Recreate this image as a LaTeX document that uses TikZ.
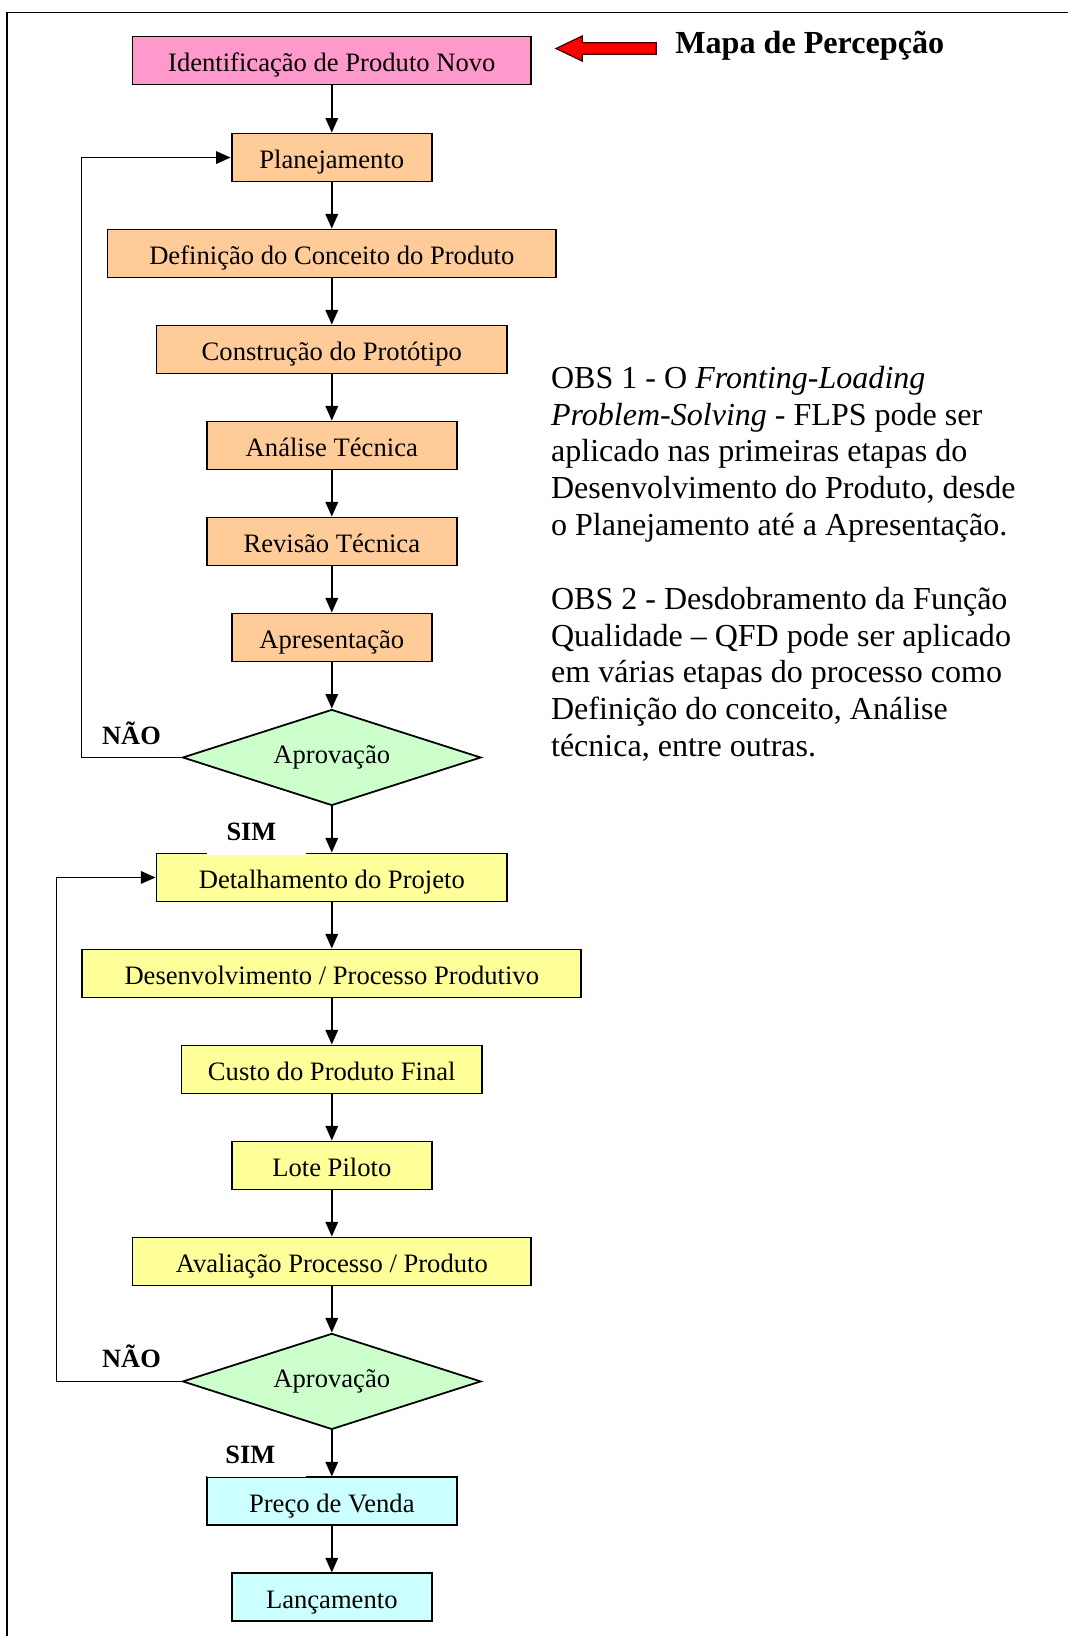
\documentclass[tikz,border=0pt]{standalone}
\usepackage{fontspec}
\setmainfont{Liberation Serif}
\usetikzlibrary{shapes.geometric,arrows.meta}
\definecolor{cpink}{HTML}{FF99CC}
\definecolor{corange}{HTML}{FFCC99}
\definecolor{cyellow}{HTML}{FFFF99}
\definecolor{cgreen}{HTML}{CCFFCC}
\definecolor{ccyan}{HTML}{CCFFFF}
\begin{document}
\begin{tikzpicture}[x=1pt,y=-1pt,
  stepbox/.style={draw, line width=1.8pt, minimum height=46pt, inner sep=0pt,
    font=\fontsize{25.5}{30}\selectfont, text height=26.8pt, text depth=6.3pt},
  dia/.style={diamond, draw, fill=cgreen, line width=1.7pt, minimum width=286pt,
    minimum height=92pt, aspect=3.1, inner sep=0pt,
    font=\fontsize{25.5}{30}\selectfont, text height=17.6pt, text depth=6.3pt},
  arr/.style={line width=1.5pt, -{Triangle[length=14pt,width=12pt]}},
  lbl/.style={anchor=base, inner sep=0pt, font=\bfseries\fontsize{25.3}{30}\selectfont}
]
\useasboundingbox (0,0) rectangle (1023,1568);
% frame
\draw[line width=1.8pt] (7,1570) -- (7,12) -- (1025,12);

% boxes
\node[stepbox, fill=cpink, minimum width=382pt] (n1) at (318,58) {Identificação de Produto Novo};
\node[stepbox, fill=corange, minimum width=192pt] (n2) at (318,151) {Planejamento};
\node[stepbox, fill=corange, minimum width=430pt] (n3) at (318,243) {Definição do Conceito do Produto};
\node[stepbox, fill=corange, minimum width=336pt] (n4) at (318,335) {Construção do Protótipo};
\node[stepbox, fill=corange, minimum width=240pt] (n5) at (318,427) {Análise Técnica};
\node[stepbox, fill=corange, minimum width=240pt] (n6) at (318,519) {Revisão Técnica};
\node[stepbox, fill=corange, minimum width=192pt] (n7) at (318,611) {Apresentação};
\node[dia] (d1) at (318,726) {Aprovação};
\node[stepbox, fill=cyellow, minimum width=336pt] (n8) at (318,841) {Detalhamento do Projeto};
\node[stepbox, fill=cyellow, minimum width=478pt] (n9) at (318,933) {Desenvolvimento / Processo Produtivo};
\node[stepbox, fill=cyellow, minimum width=288pt] (n10) at (318,1025) {Custo do Produto Final};
\node[stepbox, fill=cyellow, minimum width=192pt] (n11) at (318,1117) {Lote Piloto};
\node[stepbox, fill=cyellow, minimum width=382pt] (n12) at (318,1209) {Avaliação Processo / Produto};
\node[dia] (d2) at (318,1324) {Aprovação};
\node[stepbox, fill=ccyan, minimum width=240pt] (n13) at (318,1439) {Preço de Venda};
\node[stepbox, fill=ccyan, minimum width=192pt] (n14) at (318,1531) {Lançamento};

% connectors
\draw[arr] (n1) -- (n2);
\draw[arr] (n2) -- (n3);
\draw[arr] (n3) -- (n4);
\draw[arr] (n4) -- (n5);
\draw[arr] (n5) -- (n6);
\draw[arr] (n6) -- (n7);
\draw[arr] (n7) -- (d1);
\draw[arr] (d1) -- (n8);
\draw[arr] (n8) -- (n9);
\draw[arr] (n9) -- (n10);
\draw[arr] (n10) -- (n11);
\draw[arr] (n11) -- (n12);
\draw[arr] (n12) -- (d2);
\draw[arr] (d2) -- (n13);
\draw[arr] (n13) -- (n14);
\draw[arr] (d1.west) -- ++(-96,0) |- (n2.west);
\draw[arr] (d2.west) -- ++(-120,0) |- (n8.west);

% label backgrounds (text boxes covering the border)
\fill[white] (198,776) rectangle (293,819);
\fill[white] (198,1374) rectangle (293,1416);

% labels
\node[lbl] (nao1) at (126,713.3) {NÃO};
\node[lbl] (sim1) at (241,805.3) {SIM};
\node[lbl] (nao2) at (126,1310.3) {NÃO};
\node[lbl] (sim2) at (240,1402.3) {SIM};

% red block arrow and title
\draw[fill=red, draw=black!75!red, line width=1.2pt]
  (533,46.5) -- (558,34.5) -- (558,41) -- (629,41) -- (629,52) -- (558,52) -- (558,58.5) -- cycle;
\node[anchor=base west, inner sep=0pt, font=\bfseries\fontsize{30.8}{36}\selectfont] (title) at (647,51.5) {Mapa de Percepção};

% notes
\node[anchor=north west, inner sep=0pt, align=left, font=\fontsize{30.7}{35.3}\selectfont] (obs) at (528,350.6) {%
OBS 1 - O \textit{Fronting-Loading}\\
\textit{Problem-Solving} - FLPS pode ser\\
aplicado nas primeiras etapas do\\
Desenvolvimento do Produto, desde\\
o Planejamento até a Apresentação.\\[35.3pt]
OBS 2 - Desdobramento da Função\\
Qualidade – QFD pode ser aplicado\\
em várias etapas do processo como\\
Definição do conceito, Análise\\
técnica, entre outras.};
\end{tikzpicture}
\end{document}
